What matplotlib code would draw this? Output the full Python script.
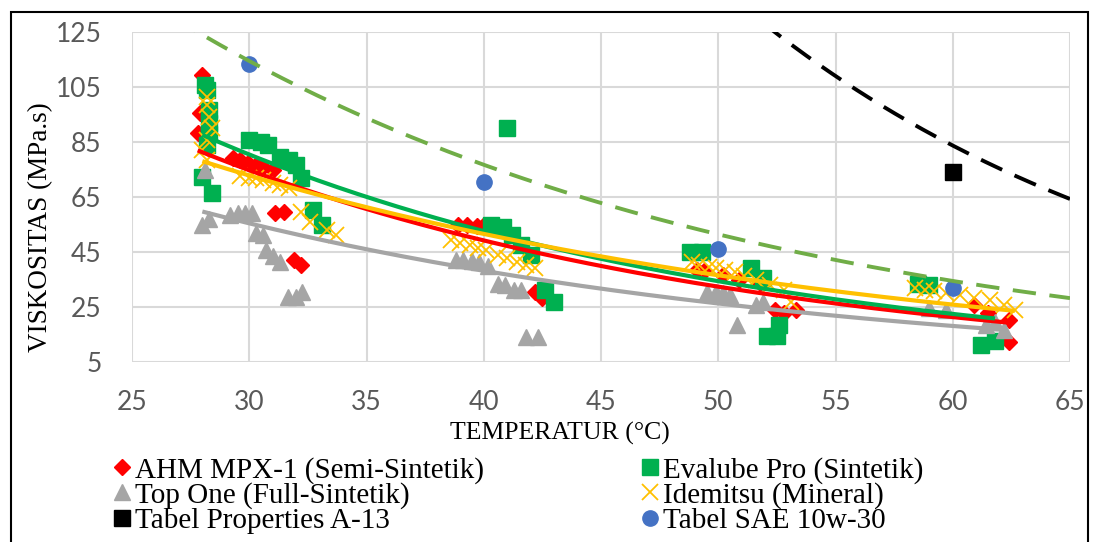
import numpy as np
import matplotlib.pyplot as plt
from matplotlib.patches import Rectangle

# ── Messdaten: Temperatur (°C) vs. Viskositas (MPa.s) ───────────────────────

ahm_t = [28.0, 27.9, 27.8, 29.3, 29.6, 29.95, 30.3, 30.6, 31.0, 31.1, 31.5, 31.9, 32.2,
         38.9, 39.3, 39.7, 40.0, 40.4, 41.1, 42.2, 42.5,
         49.1, 49.4, 50.2, 50.9, 51.8, 52.4, 52.8, 53.3,
         60.9, 61.5, 62.4, 62.4]
ahm_v = [109.4, 95.5, 88.3, 79.2, 78.5, 77.4, 76.6, 75.9, 74.8, 59.2, 59.5, 42.1, 40.3,
         54.8, 54.8, 54.5, 54.8, 54.0, 51.5, 30.5, 28.3,
         38.5, 38.0, 36.5, 35.0, 33.7, 23.9, 22.8, 23.9,
         25.7, 23.0, 20.3, 12.3]

eva_t = [28.1, 28.2, 28.3, 28.3, 28.3, 28.2, 28.0, 28.4,
         30.0, 30.5, 30.8, 31.3, 31.7, 32.0, 32.2, 32.7, 33.1,
         40.3, 40.8, 41.0, 41.2, 41.6, 42.0, 42.6, 43.0,
         48.8, 49.3, 51.4, 51.9, 52.6, 52.1, 52.5,
         58.5, 59.0, 61.2, 61.8]
eva_v = [105.7, 104.0, 96.6, 92.0, 88.0, 84.0, 72.3, 66.5,
         85.7, 85.0, 83.9, 79.5, 78.5, 76.6, 72.0, 60.3, 54.8,
         54.8, 54.0, 90.0, 51.2, 47.5, 44.0, 31.2, 26.8,
         45.0, 45.0, 39.2, 35.5, 18.5, 14.5, 14.5,
         33.4, 33.0, 11.2, 12.6]

top_t = [28.1, 28.0, 28.3,
         29.2, 29.5, 29.8, 30.1, 30.3, 30.6, 30.7, 31.0, 31.3, 31.65, 32.0, 32.25,
         38.8, 39.1, 39.5, 39.8, 40.2, 40.6, 40.9, 41.3, 41.6, 41.8, 42.3,
         49.5, 49.9, 50.2, 50.5, 50.8, 51.6, 51.9,
         59.0, 59.7, 61.4, 61.8, 62.2]
top_v = [74.8, 54.8, 57.0,
         58.5, 59.2, 59.2, 59.2, 51.9, 51.2, 45.7, 43.5, 41.4, 28.6, 28.6, 30.5,
         42.1, 42.1, 41.7, 41.4, 39.9, 33.5, 33.0, 31.2, 31.2, 14.0, 14.0,
         30.5, 30.5, 30.2, 29.4, 18.5, 25.7, 26.8,
         24.6, 23.9, 18.5, 19.5, 16.6]

ide_t = [28.2, 28.2, 28.3, 28.4, 28.2, 28.0, 28.2,
         29.6, 30.0, 30.3, 30.6, 31.0, 31.3, 31.7, 32.2, 32.6, 33.3, 33.7,
         38.6, 39.0, 39.4, 39.75, 40.1, 40.6, 41.0, 41.4, 41.8, 42.2,
         48.9, 49.2, 49.6, 49.9, 50.3, 50.7, 51.1, 51.6, 52.2, 52.8, 53.1,
         58.4, 58.8, 59.2, 59.7, 60.3, 60.9, 61.6, 62.2, 62.65]
ide_v = [101.4, 98.5, 94.0, 90.0, 85.7, 82.0, 78.5,
         72.6, 71.9, 71.9, 71.2, 70.1, 69.4, 68.3, 59.5, 55.9, 53.0, 51.2,
         49.4, 48.3, 47.5, 46.5, 45.7, 43.9, 42.8, 41.4, 40.3, 39.2,
         41.4, 40.3, 39.6, 39.2, 38.5, 37.7, 36.3, 34.8, 33.0, 31.2, 26.8,
         31.9, 31.2, 30.8, 30.1, 29.4, 28.3, 27.5, 25.7, 23.9]

a13_t = [60.0]
a13_v = [74.0]

sae_t = [30.0, 40.0, 50.0, 60.0]
sae_v = [113.4, 70.5, 46.1, 31.9]

# Exponentielle Trendlinien y = a * exp(b * T) (Koeffizienten aus dem Diagramm)
ahm_trend = (261.9, -0.0418)
eva_trend = (287.9, -0.0425)
top_trend = (169.7, -0.0373)
ide_trend = (205.0, -0.0345)
a13_trend = (1989.0, -0.0528)
sae_trend = (380.0, -0.0400)

RED, GREEN, GREY = "#FF0000", "#00B050", "#A5A5A5"
YELLOW, BLUE, BLACK = "#FFC000", "#4472C4", "#000000"
LIGHTGREEN, GRID, TICK = "#70AD47", "#D9D9D9", "#595959"
SERIF = ["Liberation Serif", "DejaVu Serif"]


def trend(coef, t):
    a, b = coef
    return a * np.exp(b * t)


fig = plt.figure(figsize=(11, 5.42), dpi=100)
ax = fig.add_axes([132 / 1100, 1 - 362 / 542, (1070 - 132) / 1100, 330 / 542])

ax.set_xlim(25, 65)
ax.set_ylim(5, 125)
ax.set_xticks(np.arange(25, 66, 5))
ax.set_yticks(np.arange(5, 126, 20))
ax.grid(True, color=GRID, linewidth=1.5)
ax.set_axisbelow(True)
for spine in ax.spines.values():
    spine.set_visible(False)
ax.tick_params(length=0, labelsize=19, labelcolor=TICK)
ax.tick_params(axis="y", pad=22)
ax.tick_params(axis="x", pad=20)
for lbl in ax.get_xticklabels() + ax.get_yticklabels():
    lbl.set_fontfamily("Lato")

# Messpunkte
series = [
    (ahm_t, ahm_v, dict(marker="D", color=RED, markersize=8), "AHM MPX-1 (Semi-Sintetik)"),
    (eva_t, eva_v, dict(marker="s", color=GREEN, markersize=11), "Evalube Pro (Sintetik)"),
    (top_t, top_v, dict(marker="^", color=GREY, markersize=11), "Top One (Full-Sintetik)"),
    (ide_t, ide_v, dict(marker="x", color=YELLOW, markersize=11, markeredgewidth=1.3),
     "Idemitsu (Mineral)"),
    (a13_t, a13_v, dict(marker="s", color=BLACK, markersize=11), "Tabel Properties A-13"),
    (sae_t, sae_v, dict(marker="o", color=BLUE, markersize=11), "Tabel SAE 10w-30"),
]
handles = {}
for t, v, style, label in series:
    h, = ax.plot(t, v, linestyle="none", label=label, **style)
    handles[label] = h

# Trendlinien über den Messbereich jeder Serie
for t, coef, color in [(ahm_t, ahm_trend, RED), (eva_t, eva_trend, GREEN),
                       (top_t, top_trend, GREY), (ide_t, ide_trend, YELLOW)]:
    tt = np.linspace(min(t), max(t), 200)
    ax.plot(tt, trend(coef, tt), color=color, linewidth=3, solid_capstyle="butt")

tt = np.linspace(25, 65, 300)
ax.plot(tt, trend(a13_trend, tt), color=BLACK, linewidth=2.8, dashes=(6, 3.5))
ax.plot(tt, trend(sae_trend, tt), color=LIGHTGREEN, linewidth=2.8, dashes=(6, 3.5))

fig.text(41 / 1100, 1 - 227 / 542, "VISKOSITAS (MPa.s)", rotation=90,
         ha="center", va="center", fontsize=19.5, family=SERIF)
fig.text(560 / 1100, 1 - 433 / 542, "TEMPERATUR (°C)",
         ha="center", va="center", fontsize=18.5, family=SERIF)

# Legende in zwei Spalten
legend_kw = dict(loc="upper left", frameon=False, handlelength=0.5, handletextpad=0.2,
                 labelspacing=-0.05, borderpad=0, prop={"family": SERIF, "size": 21})
left = ["AHM MPX-1 (Semi-Sintetik)", "Top One (Full-Sintetik)", "Tabel Properties A-13"]
right = ["Evalube Pro (Sintetik)", "Idemitsu (Mineral)", "Tabel SAE 10w-30"]
fig.legend([handles[k] for k in left], left,
           bbox_to_anchor=(100 / 1100, 1 - 442 / 542), **legend_kw)
fig.legend([handles[k] for k in right], right,
           bbox_to_anchor=(628 / 1100, 1 - 442 / 542), **legend_kw)

# Rahmen um die Abbildung
fig.add_artist(Rectangle((11 / 1100, -0.05), 1077 / 1100, 1.05 - 12 / 542,
                         transform=fig.transFigure, fill=False,
                         edgecolor=BLACK, linewidth=1.5))

fig.savefig("out.png", dpi=100)
